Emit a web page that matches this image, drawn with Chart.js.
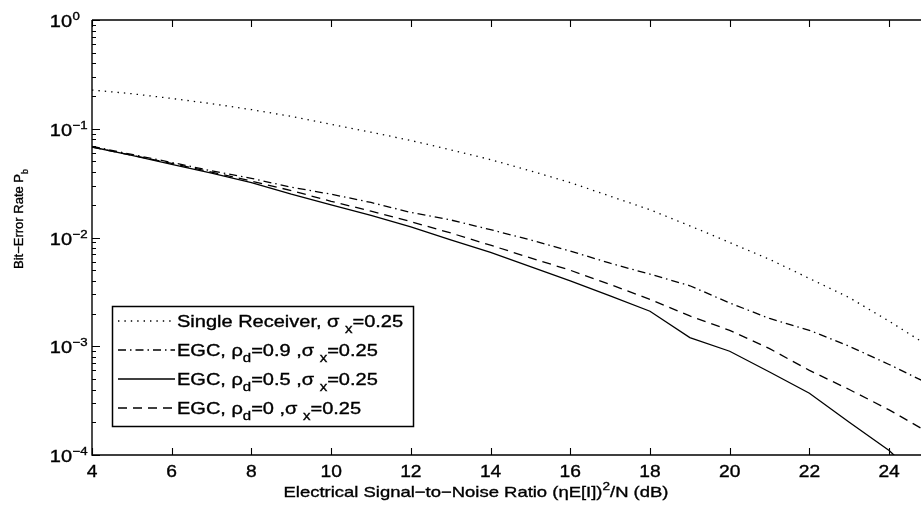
<!DOCTYPE html>
<html>
<head>
<meta charset="utf-8">
<script src="https://cdn.jsdelivr.net/npm/chart.js@4.4.1/dist/chart.umd.min.js"></script>
<style>
html,body{margin:0;padding:0;background:#fff;}
#wrap{width:921px;height:505px;position:relative;}
</style>
</head>
<body>
<div id="wrap"><canvas id="c" width="921" height="505"></canvas></div>
<script>
// ---- data ----
const snrDb = [4,5,6,7,8,9,10,11,12,13,14,15,16,17,18,19,20,21,22,23,24,25];
const singleReceiver = [0.227,0.21,0.19,0.17,0.15,0.13,0.11,0.093,0.078,0.064,0.052,0.041,0.032,0.024,0.018,0.0128,0.009,0.0063,0.0042,0.0028,0.0017,0.001];
const egcRho09 = [0.069,0.058,0.049,0.041,0.035,0.029,0.025,0.021,0.017,0.0145,0.0118,0.0095,0.0075,0.0058,0.0046,0.0036,0.0025,0.0018,0.0014,0.001,0.00068,0.00045];
const egcRho05 = [0.068,0.057,0.047,0.039,0.032,0.025,0.020,0.016,0.0125,0.0095,0.0073,0.0054,0.0040,0.0029,0.0021,0.0012,0.0009,0.00058,0.00037,0.0002,0.00011,0.00005];
const egcRho0 = [0.068,0.057,0.048,0.040,0.033,0.027,0.0215,0.0175,0.014,0.011,0.0085,0.0065,0.005,0.0037,0.0027,0.0019,0.0014,0.00095,0.0006,0.0004,0.00026,0.00016];
const xTickValues = [4,6,8,10,12,14,16,18,20,22,24];
const yTickExponents = [0,-1,-2,-3,-4];
const xMin = 4, xMax = 24.8, yMin = 1e-4, yMax = 1;

const FONT = '"Liberation Sans", Arial, Helvetica, sans-serif';

function pts(vals){ return snrDb.map((x,i)=>({x:x,y:vals[i]})); }

const legendTexts = [
  [['Single Receiver, σ ','n'],['x','s'],['=0.25','n']],
  [['EGC, ρ','n'],['d','s'],['=0.9 ,σ ','n'],['x','s'],['=0.25','n']],
  [['EGC, ρ','n'],['d','s'],['=0.5 ,σ ','n'],['x','s'],['=0.25','n']],
  [['EGC, ρ','n'],['d','s'],['=0 ,σ ','n'],['x','s'],['=0.25','n']]
];

function drawRich(ctx, parts, x, y, size, align, sx){
  sx = sx || 1;
  let w = 0;
  const items = parts.map(([t,k])=>{
    const fs = k==='n' ? size : Math.round(size*0.72);
    ctx.font = fs+'px '+FONT;
    const m = ctx.measureText(t).width*sx;
    w += m;
    return {t,k,fs,m};
  });
  let cx = align==='center' ? x - w/2 : (align==='right' ? x - w : x);
  items.forEach(it=>{
    ctx.font = it.fs+'px '+FONT;
    let dy = 0;
    if(it.k==='s') dy = size*0.4;
    if(it.k==='p') dy = -size*0.45;
    ctx.save();
    ctx.translate(cx, y+dy);
    ctx.scale(sx,1);
    ctx.lineWidth = 0.35;
    ctx.fillText(it.t, 0, 0);
    ctx.strokeText(it.t, 0, 0);
    ctx.restore();
    cx += it.m;
  });
  return w;
}

const decorPlugin = {
  id:'decor',
  afterDraw(chart){
    const ctx = chart.ctx;
    const ca = chart.chartArea;
    const xs = chart.scales.x, ys = chart.scales.y;
    ctx.save();
    ctx.strokeStyle = '#000';
    ctx.fillStyle = '#000';
    ctx.lineWidth = 1.4;
    ctx.beginPath();
    ctx.moveTo(ca.left, ca.top); ctx.lineTo(ca.left, ca.bottom);
    ctx.lineTo(ca.right, ca.bottom);
    ctx.moveTo(ca.left, ca.top); ctx.lineTo(ca.right, ca.top);
    ctx.stroke();
    ctx.lineWidth = 1.1;
    ctx.beginPath();
    xTickValues.forEach(v=>{
      const px = Math.round(xs.getPixelForValue(v))+0.5;
      ctx.moveTo(px, ca.bottom); ctx.lineTo(px, ca.bottom-7);
      ctx.moveTo(px, ca.top); ctx.lineTo(px, ca.top+7);
    });
    yTickExponents.forEach(e=>{
      const py = Math.round(ys.getPixelForValue(Math.pow(10,e)))+0.5;
      ctx.moveTo(ca.left, py); ctx.lineTo(ca.left+8, py);
      if(e>-4){
        for(let m=2;m<=9;m++){
          const qy = Math.round(ys.getPixelForValue(m*Math.pow(10,e-1)))+0.5;
          ctx.moveTo(ca.left, qy); ctx.lineTo(ca.left+4, qy);
        }
      }
    });
    ctx.stroke();
    ctx.textBaseline = 'alphabetic';
    ctx.textAlign = 'left';
    xTickValues.forEach(v=>{
      const px = xs.getPixelForValue(v);
      drawRich(ctx, [[String(v),'n']], px, ca.bottom+22, 16, 'center', 1.2);
    });
    yTickExponents.forEach(e=>{
      const py = ys.getPixelForValue(Math.pow(10,e));
      drawRich(ctx, [['10','n']], 72, py+7, 16, 'right', 1.25);
      drawRich(ctx, [[e===0 ? '0' : '−'+String(-e),'n']], 72.5, py, 11, 'left', 1.2);
    });
    drawRich(ctx, [['Electrical Signal−to−Noise Ratio (ηE[I])','n'],['2','p'],['/N (dB)','n']], 476, ca.bottom+42, 15, 'center', 1.23);
    ctx.save();
    ctx.translate(23, 219);
    ctx.rotate(-Math.PI/2);
    drawRich(ctx, [['Bit−Error Rate P','n'],['b','s']], 0, 0, 13, 'center', 1.0);
    ctx.restore();
    const lb = {l:112, t:306, r:413, b:426};
    ctx.fillStyle = '#fff';
    ctx.fillRect(lb.l, lb.t, lb.r-lb.l, lb.b-lb.t);
    ctx.fillStyle = '#000';
    ctx.lineWidth = 1.5;
    ctx.strokeRect(lb.l+0.5, lb.t+0.5, lb.r-lb.l, lb.b-lb.t);
    chart.data.datasets.forEach((ds,i)=>{
      const yy = lb.t + 15 + i*29;
      ctx.save();
      ctx.lineWidth = ds.borderWidth;
      ctx.setLineDash(ds.borderDash || []);
      ctx.beginPath();
      ctx.moveTo(lb.l+6, yy); ctx.lineTo(lb.l+63, yy);
      ctx.stroke();
      ctx.restore();
      drawRich(ctx, legendTexts[i], lb.l+65, yy+6, 16, 'left', 1.25);
    });
    ctx.restore();
  }
};

const common = {borderColor:'#000', backgroundColor:'#000', pointRadius:0, tension:0, fill:false, borderWidth:1.3};
new Chart(document.getElementById('c'), {
  type:'line',
  data:{
    datasets:[
      Object.assign({label:'Single Receiver, σx=0.25', data:pts(singleReceiver), borderDash:[1.4,5]}, common),
      Object.assign({label:'EGC, ρd=0.9 ,σx=0.25', data:pts(egcRho09), borderDash:[8,4,1.5,4]}, common),
      Object.assign({label:'EGC, ρd=0.5 ,σx=0.25', data:pts(egcRho05), borderDash:[]}, common),
      Object.assign({label:'EGC, ρd=0 ,σx=0.25', data:pts(egcRho0), borderDash:[9,6]}, common)
    ]
  },
  options:{
    responsive:false,
    animation:false,
    devicePixelRatio:1,
    layout:{padding:{left:92, right:0, top:20, bottom:50}},
    plugins:{legend:{display:false}, tooltip:{enabled:false}},
    scales:{
      x:{type:'linear', min:xMin, max:xMax, display:false},
      y:{type:'logarithmic', min:yMin, max:yMax, display:false}
    }
  },
  plugins:[decorPlugin]
});
</script>
</body>
</html>
